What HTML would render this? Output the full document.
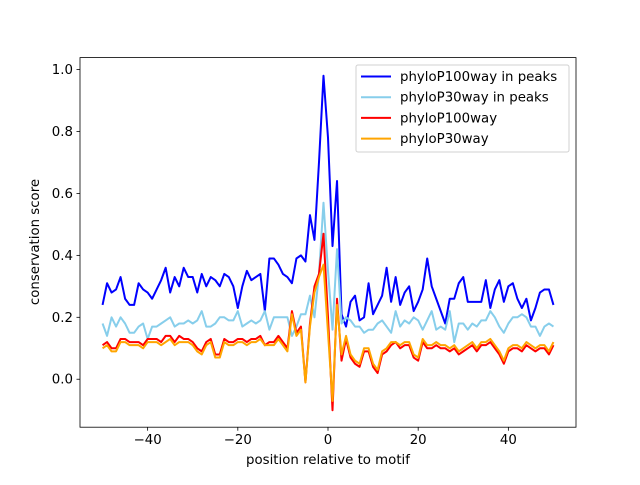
<!DOCTYPE html>
<html><head><meta charset="utf-8"><style>
body{margin:0;background:#fff}
svg text{font-family:"DejaVu Sans","Liberation Sans",sans-serif;fill:#000}
</style></head><body>
<svg id="chart" width="640" height="480" viewBox="0 0 640 480" xmlns="http://www.w3.org/2000/svg">
<rect width="640" height="480" fill="#fff"/>
<g id="marks"></g>
<rect x="80" y="57.6" width="496" height="369.6" fill="none" stroke="#000" stroke-width="0.8"/>
<g id="ticks"></g>
<text x="328" y="464" font-size="13.33" text-anchor="middle" font-family="DejaVu Sans, sans-serif">position relative to motif</text>
<text transform="translate(39,242) rotate(-90)" font-size="13.33" text-anchor="middle" font-family="DejaVu Sans, sans-serif">conservation score</text>
<g>
<rect x="356" y="65" width="213" height="87" rx="2" fill="#fff" stroke="#ccc" stroke-width="1" opacity="0.9"/>
<g id="legend-items"></g>
</g>
</svg>
<script>
const positions = Array.from({length:101},(_,i)=>i-50);
const phyloP100Peaks = [0.24,0.31,0.28,0.29,0.33,0.26,0.24,0.24,0.31,0.29,0.28,0.26,0.29,0.32,0.36,0.28,0.33,0.30,0.36,0.33,0.33,0.28,0.34,0.30,0.33,0.32,0.30,0.34,0.33,0.30,0.23,0.30,0.35,0.32,0.33,0.34,0.22,0.39,0.39,0.37,0.34,0.33,0.31,0.39,0.40,0.38,0.53,0.45,0.70,0.98,0.78,0.43,0.64,0.21,0.17,0.25,0.27,0.19,0.20,0.31,0.21,0.24,0.27,0.36,0.25,0.33,0.24,0.28,0.30,0.22,0.25,0.29,0.39,0.30,0.26,0.22,0.18,0.26,0.26,0.31,0.33,0.25,0.25,0.25,0.25,0.32,0.23,0.29,0.32,0.25,0.30,0.31,0.26,0.23,0.26,0.19,0.23,0.28,0.29,0.29,0.24];
const phyloP30Peaks = [0.18,0.14,0.20,0.17,0.20,0.18,0.15,0.15,0.17,0.18,0.13,0.17,0.17,0.18,0.19,0.20,0.17,0.18,0.18,0.19,0.18,0.19,0.22,0.17,0.17,0.18,0.20,0.20,0.19,0.19,0.22,0.17,0.18,0.19,0.18,0.19,0.22,0.16,0.20,0.20,0.20,0.20,0.14,0.17,0.21,0.21,0.27,0.20,0.34,0.57,0.35,0.16,0.42,0.18,0.20,0.19,0.17,0.17,0.15,0.16,0.16,0.18,0.19,0.17,0.15,0.22,0.17,0.19,0.18,0.20,0.19,0.16,0.19,0.22,0.16,0.17,0.16,0.22,0.12,0.18,0.18,0.16,0.18,0.17,0.19,0.19,0.22,0.20,0.17,0.15,0.18,0.20,0.20,0.21,0.20,0.17,0.17,0.14,0.17,0.18,0.17];
const phyloP100All = [0.11,0.12,0.10,0.10,0.13,0.13,0.12,0.12,0.12,0.11,0.13,0.13,0.13,0.12,0.14,0.14,0.12,0.14,0.13,0.13,0.12,0.10,0.09,0.12,0.13,0.08,0.08,0.13,0.12,0.12,0.13,0.13,0.12,0.13,0.13,0.14,0.11,0.12,0.12,0.14,0.12,0.10,0.22,0.15,0.17,-0.01,0.18,0.30,0.34,0.47,0.20,-0.10,0.26,0.06,0.13,0.07,0.05,0.04,0.09,0.09,0.04,0.02,0.08,0.09,0.11,0.12,0.10,0.11,0.11,0.07,0.06,0.12,0.10,0.10,0.11,0.10,0.10,0.09,0.10,0.08,0.09,0.10,0.11,0.09,0.11,0.11,0.12,0.10,0.08,0.05,0.09,0.10,0.10,0.09,0.11,0.10,0.09,0.10,0.10,0.08,0.11];
const phyloP30All = [0.10,0.11,0.09,0.09,0.12,0.12,0.11,0.11,0.11,0.10,0.12,0.12,0.12,0.11,0.12,0.13,0.11,0.12,0.12,0.12,0.11,0.09,0.08,0.11,0.12,0.07,0.07,0.12,0.11,0.11,0.12,0.12,0.11,0.12,0.12,0.13,0.11,0.11,0.11,0.13,0.11,0.09,0.21,0.14,0.16,-0.01,0.17,0.28,0.33,0.37,0.15,-0.07,0.24,0.08,0.14,0.08,0.06,0.05,0.10,0.10,0.05,0.03,0.09,0.10,0.12,0.12,0.11,0.12,0.12,0.08,0.07,0.13,0.11,0.11,0.12,0.11,0.11,0.10,0.11,0.09,0.10,0.11,0.12,0.10,0.12,0.12,0.13,0.11,0.09,0.06,0.10,0.11,0.11,0.10,0.12,0.11,0.10,0.11,0.11,0.09,0.12];
const xTicks = [-40,-20,0,20,40];
const yTicks = [0.0,0.2,0.4,0.6,0.8,1.0];
const seriesNames = ["phyloP100way in peaks","phyloP30way in peaks","phyloP100way","phyloP30way"];

const NS="http://www.w3.org/2000/svg";
const X0=80,X1=576,Y0=427.2,Y1=57.6, xmin=-55,xmax=55, ymin=-0.1549, ymax=1.0387;
const xs=v=>X0+(v-xmin)/(xmax-xmin)*(X1-X0);
const ys=v=>Y0-(v-ymin)/(ymax-ymin)*(Y0-Y1);
const marks=document.getElementById('marks');
const series=[[phyloP100Peaks,"#0000ff","series-phylop100-peaks"],[phyloP30Peaks,"#87ceeb","series-phylop30-peaks"],[phyloP100All,"#ff0000","series-phylop100"],[phyloP30All,"#ffa500","series-phylop30"]];
series.forEach(([vals,col,name])=>{
  const p=document.createElementNS(NS,'polyline');
  p.setAttribute('points',vals.map((v,i)=>xs(positions[i]).toFixed(2)+','+ys(v).toFixed(2)).join(' '));
  p.setAttribute('fill','none');p.setAttribute('stroke',col);p.setAttribute('stroke-width','2');p.setAttribute('stroke-linejoin','round');
  
  
  marks.appendChild(p);
});
const t=document.getElementById('ticks');
xTicks.forEach(v=>{
  const l=document.createElementNS(NS,'line');
  l.setAttribute('x1',xs(v));l.setAttribute('x2',xs(v));l.setAttribute('y1',Y0);l.setAttribute('y2',Y0+3.5);l.setAttribute('stroke','#000');l.setAttribute('stroke-width','0.8');
  
  
  t.appendChild(l);
  const tx=document.createElementNS(NS,'text');
  tx.setAttribute('x',xs(v));tx.setAttribute('y',Y0+17);tx.setAttribute('font-size','13.33');tx.setAttribute('text-anchor','middle');tx.setAttribute('font-family','DejaVu Sans, sans-serif');
  tx.textContent=(v<0?'\u2212'+(-v):v);
  
  
  t.appendChild(tx);
});
yTicks.forEach(v=>{
  const l=document.createElementNS(NS,'line');
  l.setAttribute('x1',X0-3.5);l.setAttribute('x2',X0);l.setAttribute('y1',ys(v));l.setAttribute('y2',ys(v));l.setAttribute('stroke','#000');l.setAttribute('stroke-width','0.8');
  
  
  t.appendChild(l);
  const tx=document.createElementNS(NS,'text');
  tx.setAttribute('x',X0-7);tx.setAttribute('y',ys(v)+4.5);tx.setAttribute('font-size','13.33');tx.setAttribute('text-anchor','end');tx.setAttribute('font-family','DejaVu Sans, sans-serif');
  tx.textContent=v.toFixed(1);
  
  
  t.appendChild(tx);
});
const lg=document.getElementById('legend-items');
seriesNames.forEach((n,i)=>{
  const y=76.5+i*20.7;
  const l=document.createElementNS(NS,'line');
  l.setAttribute('x1',361);l.setAttribute('x2',391);l.setAttribute('y1',y);l.setAttribute('y2',y);l.setAttribute('stroke',series[i][1]);l.setAttribute('stroke-width','2');
  
  
  lg.appendChild(l);
  const tx=document.createElementNS(NS,'text');
  tx.setAttribute('x',400);tx.setAttribute('y',y+4.5);tx.setAttribute('font-size','13.33');tx.setAttribute('font-family','DejaVu Sans, sans-serif');
  tx.textContent=n;
  
  
  lg.appendChild(tx);
});
</script>
</body></html>
